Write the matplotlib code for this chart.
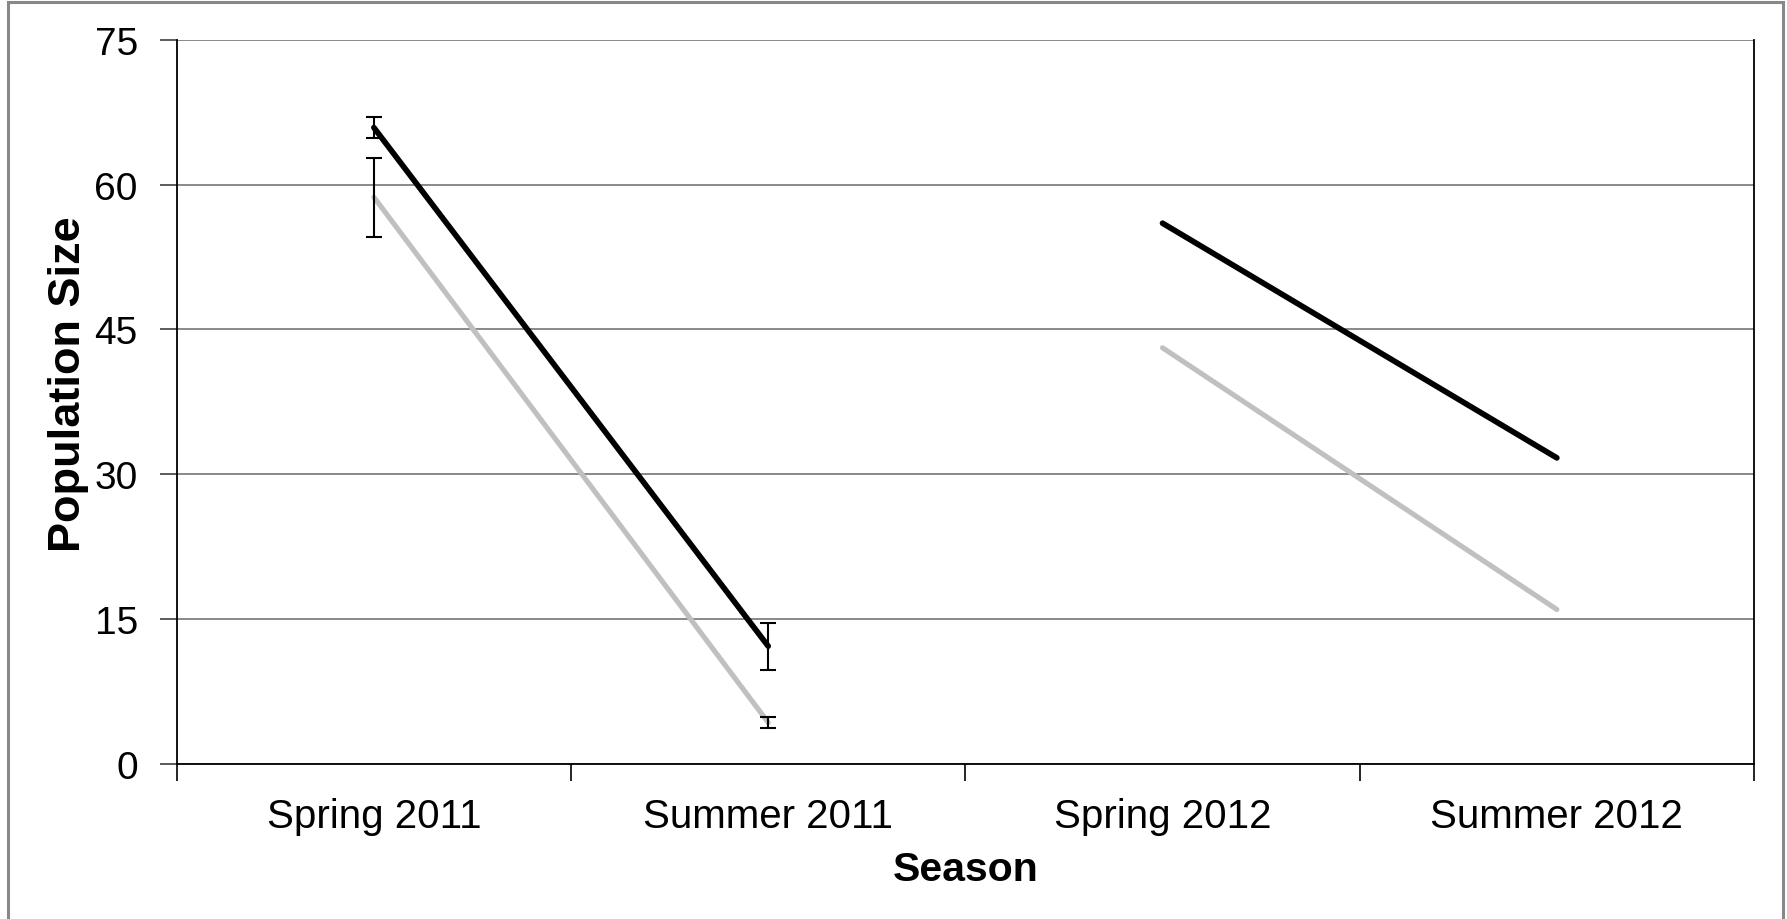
import matplotlib
matplotlib.use("Agg")
import matplotlib.pyplot as plt
from matplotlib.patches import Rectangle
import numpy as np

plt.rcParams['font.family'] = ['Liberation Sans', 'DejaVu Sans']

seasons = ["Spring 2011", "Summer 2011", "Spring 2012", "Summer 2012"]
black_vals = [65.9, 12.2, 56.0, 31.7]
gray_vals = [58.7, 4.3, 43.1, 16.0]
black_err = [1.1, 2.45, 0.0, 0.0]
gray_err = [4.1, 0.6, 0.0, 0.0]
has_err = [True, True, False, False]
year_groups = [[0, 1], [2, 3]]
yticks = [0, 15, 30, 45, 60, 75]

fig = plt.figure(figsize=(17.87, 9.2), dpi=100)
ax = fig.add_axes([176.7/1787, 1-765/920, (1754-176.7)/1787, (765-40.7)/920])

x = np.arange(1, len(seasons) + 1)

for vals, err, color, lw in [(gray_vals, gray_err, "#C0C0C0", 3.7),
                             (black_vals, black_err, "#000000", 4.1)]:
    for g in year_groups:
        ax.plot(x[g], [vals[i] for i in g], color=color, lw=lw,
                solid_capstyle='round', zorder=3)
    ei = [i for i in range(len(seasons)) if has_err[i]]
    ax.errorbar(x[ei], [vals[i] for i in ei], yerr=[err[i] for i in ei],
                fmt='none', ecolor='black', elinewidth=1.5, capsize=6,
                capthick=1.5, zorder=4)

ax.set_xlim(0.5, len(seasons) + 0.5)
ax.set_ylim(0, 75)
ax.set_yticks(yticks)
ax.set_yticklabels([str(v) for v in yticks], fontsize=28)
ax.yaxis.grid(True, color="#808080", lw=1.3)
ax.set_axisbelow(True)

ax.set_xticks(np.arange(0.5, len(seasons) + 1, 1.0))
ax.set_xticklabels([])
ax.set_xticks(x, minor=True)
ax.set_xticklabels(seasons, minor=True, fontsize=29)
ax.tick_params(axis='x', which='minor', length=0, pad=24)
ax.tick_params(axis='x', which='major', length=12, width=1.2, color='black')
ax.tick_params(axis='y', length=12, width=1.2, color='#404040', pad=16)

for s in ['left', 'bottom', 'right']:
    ax.spines[s].set_color('black')
    ax.spines[s].set_linewidth(1.3)
ax.spines['top'].set_visible(False)

ax.set_ylabel("Population Size", fontsize=32.5, fontweight='bold')
ax.yaxis.set_label_coords(-0.0555, 0.526)
ax.set_xlabel("Season", fontsize=29.5, fontweight='bold')
ax.xaxis.set_label_coords(0.5, -0.119)

fig.patches.append(Rectangle((8/1787, -0.05), (1783-8)/1787, 1.05 - 3/920,
                             transform=fig.transFigure, fill=False,
                             edgecolor="#888888", lw=2.2, clip_on=False))

fig.savefig("out.png", dpi=100)
